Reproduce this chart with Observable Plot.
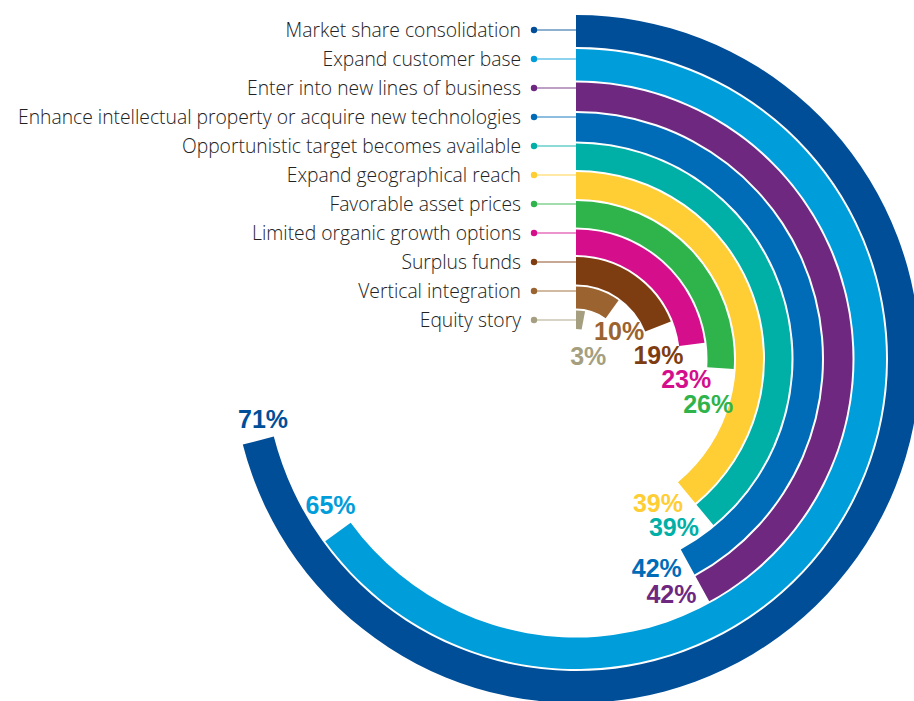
<!DOCTYPE html>
<html><head><meta charset="utf-8">
<script src="https://cdn.jsdelivr.net/npm/d3@7"></script>
<script src="https://cdn.jsdelivr.net/npm/@observablehq/plot@0.6"></script>
<style>html,body{margin:0;padding:0;background:#fff;} #chart svg{display:block;}</style>
</head><body><div id="chart"></div>
<script>
const categories = [
  "Market share consolidation",
  "Expand customer base",
  "Enter into new lines of business",
  "Enhance intellectual property or acquire new technologies",
  "Opportunistic target becomes available",
  "Expand geographical reach",
  "Favorable asset prices",
  "Limited organic growth options",
  "Surplus funds",
  "Vertical integration",
  "Equity story"
];
const values = [71, 65, 42, 42, 39, 39, 26, 23, 19, 10, 3];
const colors = ["#004E98", "#009DDB", "#6E2880", "#006CB7", "#00AFA6", "#FFCD34", "#2FB34B", "#D50E8C", "#7E3D11", "#9B6330", "#A59F80"];

// layout
const W = 914, H = 701;
const center = {x: 576, y: 359};
const ringEdges = [344, 310, 276.5, 246, 215.5, 187, 158, 129.5, 102, 72.5, 48.5, 28];
const gap = 2;
const valueFont = 25;

const data = categories.map((c, i) => ({category: c, value: values[i], color: colors[i], ring: i}));
const rowScale = Plot.scale({y: {type: "point", domain: categories, range: [30, 320], padding: 0}});

const arcRender = (index, scales, v) => {
  const g = d3.create("svg:g").attr("transform", `translate(${center.x},${center.y})`);
  const arc = d3.arc();
  for (const i of index) {
    g.append("path")
      .attr("d", arc({innerRadius: v.y2[i] + gap, outerRadius: v.y1[i], startAngle: v.x1[i], endAngle: v.x2[i]}))
      .attr("fill", data[i].color);
  }
  return g.node();
};

// value labels: placed just past each arc's end, pushed along the ring if they collide with an inner label
const valueRender = (index, scales, v) => {
  const g = d3.create("svg:g")
    .attr("font-family", "'Liberation Sans', Arial, sans-serif")
    .attr("font-weight", "bold").attr("font-size", valueFont);
  const placed = [];
  const order = Array.from(index).sort((a, b) => v.y[a] - v.y[b]); // inner first
  const boxH = 0.96 * valueFont;
  for (const i of order) {
    const label = `${data[i].value}%`;
    const w = (label.length - 1) * 0.556 * valueFont + 0.889 * valueFont;
    const th = v.x[i], r = v.y[i];
    const tx = Math.cos(th), ty = Math.sin(th);
    const px = center.x + r * Math.sin(th), py = center.y - r * Math.cos(th);
    const half = Math.abs(tx) * w / 2 + Math.abs(ty) * boxH / 2;
    let a = Math.min(2 + half, 0.3 * r);
    const b = Math.max(9, 33 - 0.95 * (r - 38.5));
    let x, y;
    for (let k = 0; k < 80; k++) {
      x = px + a * tx - b * Math.sin(th);
      y = py + a * ty + b * Math.cos(th);
      const hit = placed.some(p => Math.abs(p.x - x) < (p.w + w) / 2 && Math.abs(p.y - y) < boxH);
      if (!hit) break;
      a += 1;
    }
    placed.push({x, y, w});
    g.append("text").attr("x", x).attr("y", y)
      .attr("text-anchor", "middle").attr("dy", "0.36em")
      .attr("fill", data[i].color).text(label);
  }
  return g.node();
};

const catRender = (index) => {
  const g = d3.create("svg:g")
    .attr("font-family", "'Open Sans', 'Liberation Sans', sans-serif")
    .attr("font-weight", 300).attr("font-size", 19.3);
  for (const i of index) {
    const y = rowScale.apply(data[i].category);
    g.append("line").attr("x1", center.x - 42).attr("x2", center.x).attr("y1", y).attr("y2", y)
      .attr("stroke", data[i].color).attr("stroke-width", 1.4).attr("stroke-opacity", 0.6);
    g.append("circle").attr("cx", center.x - 42).attr("cy", y).attr("r", 3.2).attr("fill", data[i].color);
    g.append("text").attr("x", center.x - 55).attr("y", y).attr("dy", "0.35em")
      .attr("text-anchor", "end").attr("fill", "#222").text(data[i].category);
  }
  return g.node();
};

const chart = Plot.plot({
  width: W, height: H, margin: 0,
  x: {domain: [0, 100], range: [0, 2 * Math.PI], axis: null},
  y: {type: "linear", domain: d3.range(ringEdges.length), range: ringEdges, axis: null},
  marks: [
    Plot.rect(data, {x1: d => 0, x2: "value", y1: "ring", y2: d => d.ring + 1, render: arcRender}),
    Plot.text(data, {x: "value", y: d => d.ring + 0.5, text: d => `${d.value}%`, render: valueRender}),
    Plot.text(data, {x: d => 0, y: "ring", text: "category", render: catRender})
  ]
});
document.getElementById("chart").append(chart);
</script>
</body></html>
